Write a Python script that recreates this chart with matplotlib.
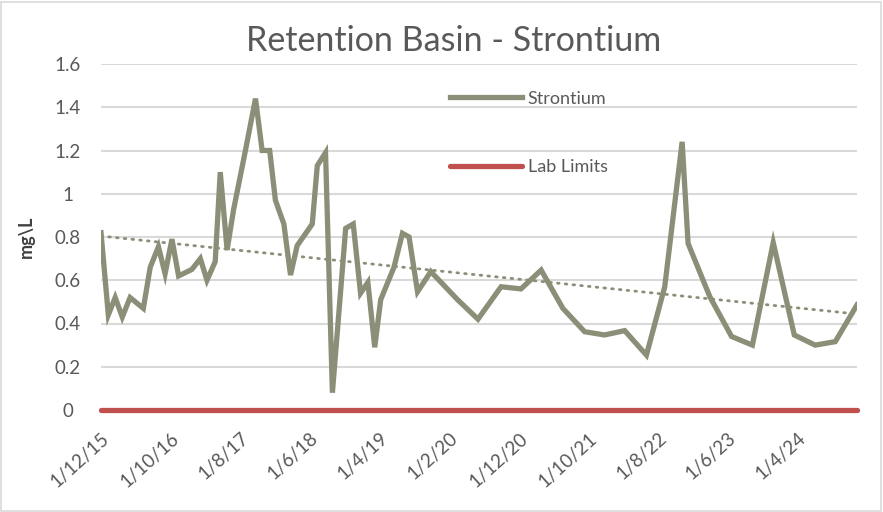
import matplotlib
matplotlib.use("Agg")
import matplotlib.pyplot as plt
import matplotlib.dates as mdates
from matplotlib.patches import Rectangle
import numpy as np
import pandas as pd

dates = ["2015-12-01", "2016-01-02", "2016-02-01", "2016-03-03", "2016-04-06",
         "2016-06-03", "2016-07-03", "2016-08-08", "2016-09-06", "2016-10-06",
         "2016-11-04", "2017-01-01", "2017-02-07", "2017-03-08", "2017-04-13",
         "2017-05-05", "2017-06-04", "2017-07-02", "2017-08-23", "2017-10-06",
         "2017-11-04", "2017-12-07", "2018-01-01", "2018-02-07", "2018-03-08",
         "2018-04-06", "2018-06-11", "2018-07-03", "2018-08-08", "2018-09-07",
         "2018-11-04", "2018-12-07", "2019-01-08", "2019-02-09", "2019-03-11",
         "2019-04-06", "2019-06-03", "2019-07-10", "2019-08-08", "2019-09-14",
         "2019-11-11", "2020-03-07", "2020-06-04", "2020-09-13", "2020-12-09",
         "2021-03-07", "2021-06-10", "2021-09-13", "2021-12-09", "2022-03-07",
         "2022-06-10", "2022-08-29", "2022-11-13", "2022-12-09", "2023-03-14",
         "2023-06-17", "2023-09-16", "2023-12-16", "2024-03-17", "2024-06-16",
         "2024-09-12", "2024-12-16"]
strontium = [0.82, 0.44, 0.52, 0.43, 0.52,
             0.47, 0.66, 0.755, 0.63, 0.79,
             0.62, 0.65, 0.70, 0.60, 0.686,
             1.10, 0.74, 0.925, 1.20, 1.44,
             1.20, 1.20, 0.97, 0.86, 0.624,
             0.76, 0.86, 1.13, 1.19, 0.08,
             0.84, 0.86, 0.54, 0.59, 0.29,
             0.51, 0.66, 0.817, 0.80, 0.547,
             0.64, 0.51, 0.42, 0.57, 0.56,
             0.647, 0.47, 0.362, 0.347, 0.367,
             0.254, 0.57, 1.24, 0.77, 0.524,
             0.34, 0.30, 0.774, 0.347, 0.30,
             0.316, 0.486]
lab_limits = [0.0] * len(dates)

tick_dates = ["2015-12-01", "2016-10-01", "2017-08-01", "2018-06-01", "2019-04-01",
              "2020-02-01", "2020-12-01", "2021-10-01", "2022-08-01", "2023-06-01",
              "2024-04-01"]
tick_labels = ["1/12/15", "1/10/16", "1/8/17", "1/6/18", "1/4/19", "1/2/20",
               "1/12/20", "1/10/21", "1/8/22", "1/6/23", "1/4/24"]
y_ticks = [0, 0.2, 0.4, 0.6, 0.8, 1.0, 1.2, 1.4, 1.6]
y_tick_labels = ["0", "0.2", "0.4", "0.6", "0.8", "1", "1.2", "1.4", "1.6"]

plt.rcParams['font.family'] = ['Lato', 'DejaVu Sans']
text_color = "#595959"
line_color = "#8b8f78"
red = "#c0504d"

x = pd.to_datetime(dates)
xn = mdates.date2num(x)

fig = plt.figure(figsize=(8.83, 5.12), dpi=100)
fig.patches.append(Rectangle((0.001, 0.001), 0.997, 0.996, transform=fig.transFigure,
                             fill=False, edgecolor="#d9d9d9", linewidth=1.2))
ax = fig.add_axes([101 / 883, 1 - 410 / 512, (857 - 101) / 883, (410 - 64) / 512])

for yv in y_ticks[1:]:
    ax.axhline(yv, color="#d9d9d9", linewidth=1.5, zorder=0)

ln1, = ax.plot(x, strontium, color=line_color, linewidth=3.8, solid_joinstyle="miter",
               label="Strontium", zorder=3)
ln2, = ax.plot(x, lab_limits, color=red, linewidth=3.8, label="Lab Limits",
               solid_capstyle="round", clip_on=False, zorder=4)

coef = np.polyfit(xn, strontium, 1)
trend = np.polyval(coef, xn)
ax.plot(x, trend, color=line_color, linewidth=2.0, linestyle=(0, (0.6, 2.2)),
        dash_capstyle="round", zorder=2)

ax.set_xlim(xn[0], xn[-1])
ax.set_ylim(0, 1.6)
ax.set_yticks(y_ticks)
ax.set_yticklabels(y_tick_labels)
ax.set_xticks(mdates.date2num(pd.to_datetime(tick_dates)))
ax.set_xticklabels(tick_labels, rotation=42, ha="right", rotation_mode="anchor")
ax.tick_params(axis="both", length=0, labelsize=13.5, colors=text_color)
ax.tick_params(axis="y", pad=24)
ax.tick_params(axis="x", pad=14)
for lab in ax.get_yticklabels():
    lab.set_horizontalalignment("center")
for s in ax.spines.values():
    s.set_visible(False)

ax.set_ylabel("mg\\L", fontsize=13, fontweight="bold", color="#404040", labelpad=14)
fig.text(454 / 883, 1 - 41 / 512, "Retention Basin - Strontium", fontsize=24.5,
         color=text_color, ha="center", va="center")

leg = ax.legend(handles=[ln1, ln2], loc="upper left", bbox_to_anchor=(0.44, 0.97),
                frameon=False, fontsize=13, handlelength=4.0, handletextpad=0.3,
                labelspacing=2.9, labelcolor=text_color)

fig.savefig("out.png", dpi=100)
